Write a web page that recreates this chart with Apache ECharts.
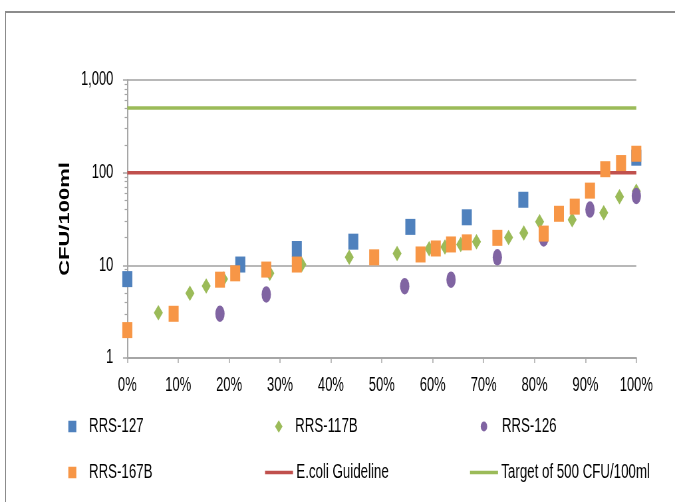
<!DOCTYPE html>
<html>
<head>
<meta charset="utf-8">
<script src="https://cdn.jsdelivr.net/npm/echarts@6/dist/echarts.min.js"></script>
<style>
  html, body { margin: 0; padding: 0; background: #fff; overflow: hidden; }
  #frame {
    position: absolute; left: 5px; top: 11px; width: 680px; height: 500px;
    border-top: 2px solid #8c8c8c; border-left: 1px solid #8c8c8c;
  }
  #chart {
    position: absolute; left: 0; top: 0; height: 502px;
    transform-origin: 0 0;
  }
</style>
</head>
<body>
<div id="frame"></div>
<div id="chart"></div>
<script>
// Horizontal compression of the whole drawing (narrow text and markers)
const SX = 0.665;
const px = v => v / SX;

// Cumulative frequency (fraction of samples) and E. coli counts, CFU/100ml
const rrs127X = [0, 0.222, 0.333, 0.444, 0.556, 0.667, 0.778, 1.0];
const rrs127Y = [7.1, 10.2, 15, 18, 26, 33, 51, 145];

const rrs117bX = [0.061, 0.123, 0.155, 0.189, 0.280, 0.343, 0.436, 0.530, 0.593, 0.624,
                  0.655, 0.686, 0.749, 0.779, 0.810, 0.874, 0.936, 0.967, 1.0];
const rrs117bY = [3.07, 5.0, 6.0, 7.1, 8.2, 10.2, 12.2, 13.4, 15.1, 15.8,
                  16.8, 18, 20, 22.4, 29.5, 31, 37, 55, 63];

const rrs126X = [0.182, 0.273, 0.545, 0.636, 0.727, 0.818, 0.909, 1.0];
const rrs126Y = [3.0, 4.85, 5.96, 7.0, 12.2, 19.5, 40, 56];

const rrs167bX = [0, 0.091, 0.182, 0.212, 0.273, 0.333, 0.485, 0.576, 0.606, 0.636,
                  0.667, 0.727, 0.818, 0.848, 0.879, 0.909, 0.939, 0.970, 1.0];
const rrs167bY = [2, 3, 7, 8.2, 9, 10.2, 12.2, 13.1, 15.2, 16.8,
                  17.7, 19.8, 22, 36, 43, 64, 109, 127, 160];

const ecoliGuideline = 100;
const target500 = 500;

const xTickLabels = ['0%', '10%', '20%', '30%', '40%', '50%', '60%', '70%', '80%', '90%', '100%'];
const yTickLabels = { 1: '1', 10: '10', 100: '100', 1000: '1,000' };

const seriesNames = ['RRS-127', 'RRS-117B', 'RRS-126', 'RRS-167B', 'E.coli Guideline', 'Target of 500 CFU/100ml'];
const colors = { blue: '#4F81BD', green: '#9BBB59', purple: '#8064A2', orange: '#F79646', red: '#C0504D' };

const ELLIPSE = 'path://M0,50 A50,50 0 1,0 100,50 A50,50 0 1,0 0,50 Z';
const FONT = '"Liberation Sans", Arial, sans-serif';

const zip = (xs, ys) => xs.map((x, i) => [x, ys[i]]);

const el = document.getElementById('chart');
el.style.width = px(675) + 'px';
el.style.transform = 'scaleX(' + SX + ')';
const chart = echarts.init(el, null, { renderer: 'canvas' });

// One legend block per entry, laid out in a 3 x 2 table
function legendItem(name, icon, iconLeft, centerY, w, h, textPad) {
  return {
    data: [{ name: name, icon: icon }],
    left: px(iconLeft), top: centerY - 7,
    padding: 0, itemWidth: w, itemHeight: h,
    selectedMode: false,
    textStyle: { fontFamily: FONT, fontSize: 20, color: '#000', lineHeight: 14, padding: [0, 0, 0, textPad] }
  };
}

const row1 = 423.5, row2 = 469.5;

chart.setOption({
  animation: false,
  backgroundColor: 'transparent',
  grid: { left: px(127.3), top: 80, width: px(509), height: 278, containLabel: false },
  legend: [
    legendItem(seriesNames[0], 'rect', 68.3, row1, px(8), 11.5, 14),
    legendItem(seriesNames[1], 'diamond', 275, row1, px(7.5), 12.5, 14),
    legendItem(seriesNames[2], ELLIPSE, 480.7, row1, px(6.5), 11.5, 17),
    legendItem(seriesNames[3], 'rect', 68.3, row2, px(8), 11.5, 14),
    legendItem(seriesNames[4], 'rect', 265, row2, px(28), 3.5, 0),
    legendItem(seriesNames[5], 'rect', 470, row2, px(28), 3.5, 0)
  ],
  xAxis: {
    type: 'value', min: 0, max: 1, interval: 0.1,
    axisLine: { show: true, lineStyle: { color: '#a6a6a6', width: 2 } },
    axisTick: { show: true, length: 5, lineStyle: { color: '#a6a6a6', width: 1.5 } },
    splitLine: { show: false },
    axisLabel: {
      margin: 18, color: '#000', fontFamily: FONT, fontSize: 19.5,
      formatter: v => xTickLabels[Math.round(v * 10)]
    }
  },
  yAxis: {
    type: 'log', logBase: 10, min: 1, max: 1000,
    name: 'CFU/100ml', nameLocation: 'middle', nameRotate: 90, nameGap: 82,
    nameTextStyle: { fontFamily: FONT, fontSize: 22, fontWeight: 'bold', color: '#000' },
    axisLine: { show: true, lineStyle: { color: '#a6a6a6', width: 2 } },
    axisTick: { show: true, length: 6.5, lineStyle: { color: '#a6a6a6', width: 1.5 } },
    minorTick: { show: true, splitNumber: 9, length: 4, lineStyle: { color: '#a6a6a6', width: 1.2 } },
    splitLine: { show: true, lineStyle: { color: '#b8b8b8', width: 2 } },
    axisLabel: {
      margin: 21, color: '#000', fontFamily: FONT, fontSize: 19.5,
      formatter: v => yTickLabels[Math.round(v)] || ''
    }
  },
  series: [
    {
      name: seriesNames[4], type: 'line', symbol: 'none', z: 1,
      lineStyle: { color: colors.red, width: 3.5 }, itemStyle: { color: colors.red },
      data: [[0, ecoliGuideline], [1, ecoliGuideline]]
    },
    {
      name: seriesNames[5], type: 'line', symbol: 'none', z: 1,
      lineStyle: { color: colors.green, width: 3.5 }, itemStyle: { color: colors.green },
      data: [[0, target500], [1, target500]]
    },
    {
      name: seriesNames[0], type: 'scatter', symbol: 'rect', symbolSize: [px(10), 16], z: 2,
      itemStyle: { color: colors.blue, opacity: 1 }, data: zip(rrs127X, rrs127Y)
    },
    {
      name: seriesNames[1], type: 'scatter', symbol: 'diamond', symbolSize: [px(9), 15.5], z: 3,
      itemStyle: { color: colors.green, opacity: 1 }, data: zip(rrs117bX, rrs117bY)
    },
    {
      name: seriesNames[2], type: 'scatter', symbol: ELLIPSE, symbolKeepAspect: false,
      symbolSize: [px(9.3), 16.5], z: 4,
      itemStyle: { color: colors.purple, opacity: 1 }, data: zip(rrs126X, rrs126Y)
    },
    {
      name: seriesNames[3], type: 'scatter', symbol: 'rect', symbolSize: [px(10), 16], z: 5,
      itemStyle: { color: colors.orange, opacity: 1 }, data: zip(rrs167bX, rrs167bY)
    }
  ]
});
</script>
</body>
</html>
